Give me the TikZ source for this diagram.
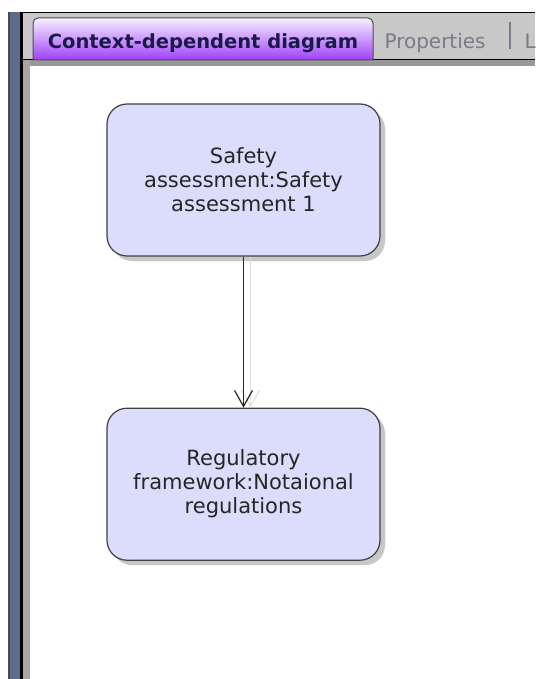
\documentclass[tikz,border=0pt]{standalone}
\usepackage{fontspec}
\setmainfont{DejaVu Sans}
\usepackage{xcolor}
\usetikzlibrary{positioning,shadows,arrows.meta}

\definecolor{boxfill}{HTML}{DCDCFC}
\definecolor{tabtop}{HTML}{F6F0FF}
\definecolor{tabbot}{HTML}{A040FA}
\definecolor{stripgrey}{HTML}{C8C8C8}
\definecolor{barblue}{HTML}{5F6B8A}
\definecolor{tabink}{HTML}{1A1A48}
\definecolor{greyink}{HTML}{7A7A8A}

\begin{document}
\begin{tikzpicture}[
    x=1pt, y=-1pt,
    node distance=151pt,
    box/.style={rectangle, draw=black!75, line width=1.2pt, rounded corners=20pt, fill=boxfill, minimum width=273pt, minimum height=152pt, align=center, text=black!85, font=\fontsize{21}{24}\selectfont, drop shadow={shadow xshift=5pt, shadow yshift=-5pt, fill=black!22, opacity=1}},
    arrow/.style={-{Straight Barb[length=16pt,width=18pt]}, line width=1.2pt, black!85},
    shadowarrow/.style={-{Straight Barb[length=16pt,width=18pt]}, line width=1.2pt, black!12},
    tablabel/.style={anchor=base, font=\fontsize{19.5}{22}\selectfont\bfseries, text=tabink},
    greylabel/.style={anchor=base west, font=\fontsize{20}{22}\selectfont, text=greyink}
]
    \useasboundingbox (0,0) rectangle (535,679);

    % Window frame
    \fill[barblue] (8,12) rectangle (20,679);
    \fill[black!70] (8,12) rectangle (10,679);
    \fill[black] (20,12) rectangle (23,679);
    \fill[stripgrey] (23,12) rectangle (535,60);
    \fill[black!40] (23,60) rectangle (535,66);
    \fill[black!35] (23,60) rectangle (30,679);
    \fill[white] (30,66) rectangle (535,679);
    \draw[black, line width=1.5pt] (23,12.5) -- (535,12.5);
    \draw[black, line width=1.5pt] (23,59.5) -- (535,59.5);

    % Tabs
    \path[draw=black!70, line width=1pt, top color=tabtop, bottom color=tabbot]
        (33,60) [rounded corners=5pt] -- (33,18) -- (373,18) [sharp corners] -- (373,60) -- cycle;
    \node[tablabel] (tab) at (203,49) {Context-dependent diagram};
    \node[greylabel] (props) at (381,49) {Properties};
    \draw[greyink, line width=1.3pt] (510,22) -- (510,49);
    \node[greylabel] (more) at (521,49) {L};

    % Elements
    \node[box] (safety) at (243.5,180) {Safety\\assessment:Safety\\assessment 1};
    \node[box, below=of safety] (framework) {Regulatory\\framework:Notaional\\regulations};

    % Connector
    \draw[shadowarrow] ([xshift=7pt]safety.south) -- ([xshift=7pt]framework.north);
    \draw[arrow] (safety) -- (framework);

\end{tikzpicture}
\end{document}
